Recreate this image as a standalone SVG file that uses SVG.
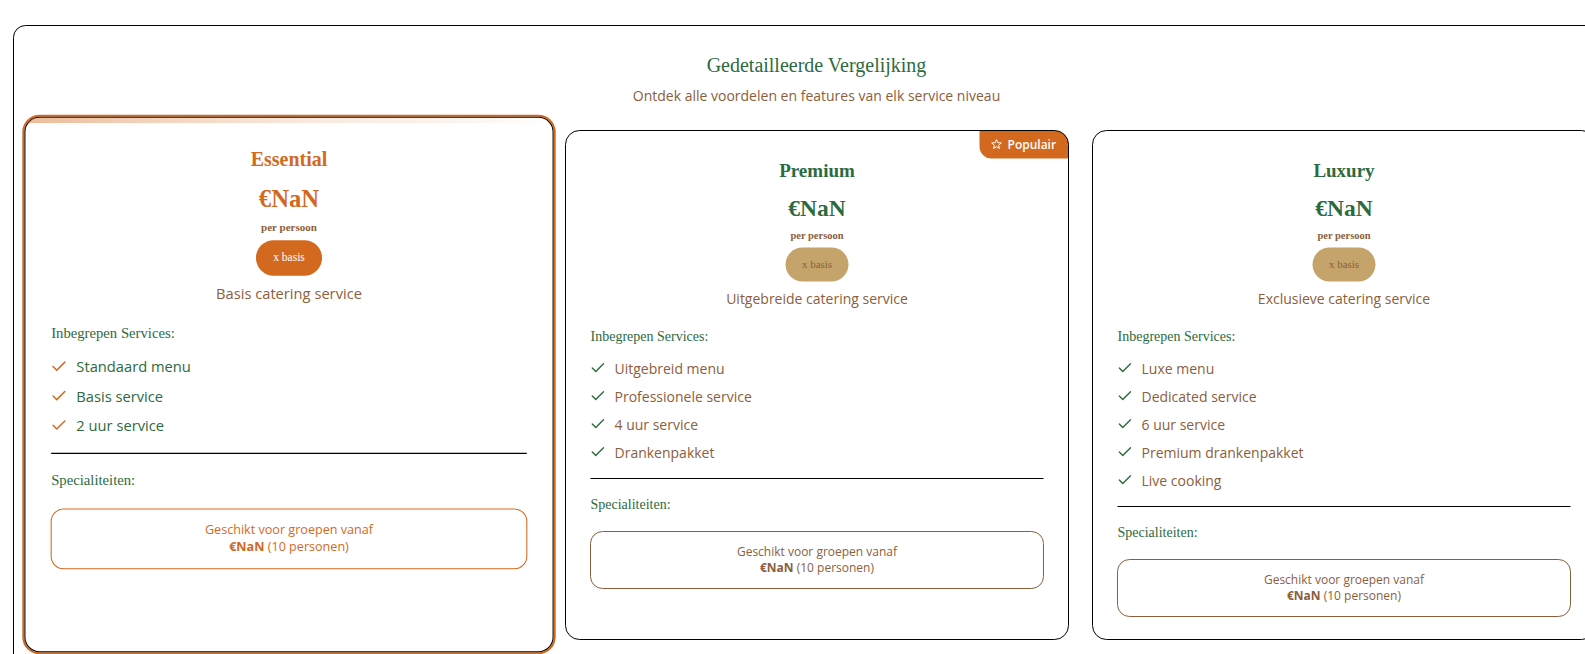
<svg xmlns="http://www.w3.org/2000/svg" width="1585" height="654" viewBox="0 0 1585 654">
<style>
.serif{font-family:"Liberation Serif","DejaVu Serif",serif}
.sans{font-family:"Open Sans","Noto Sans",sans-serif}
.green{fill:#2D6A3E}
.brown{fill:#8B5E3C}
.orange{fill:#D2691E}
.title{font-size:19px;font-weight:bold;text-anchor:middle}
.price{font-size:23.5px;font-weight:bold;text-anchor:middle}
.per{font-size:10.5px;font-weight:bold;text-anchor:middle}
.pilltxt{font-size:11px;text-anchor:middle}
.desc{font-size:14px;text-anchor:middle}
.head{font-size:14px}
.item{font-size:14px}
.boxtxt{font-size:12px;text-anchor:middle}
.card{fill:#fff;stroke:#000;stroke-width:1}
.div{stroke:#000;stroke-width:1.2}
.chk{fill:none;stroke-width:2;stroke-linecap:round;stroke-linejoin:round}
</style>
<defs>
<path id="check" d="M20 6 9 17l-5-5"/>
<linearGradient id="topglow" x1="0" y1="0" x2="1" y2="0">
<stop offset="0" stop-color="#D2691E" stop-opacity="0.45"/>
<stop offset="0.6" stop-color="#E8A070" stop-opacity="0.2"/>
<stop offset="1" stop-color="#D2691E" stop-opacity="0"/>
</linearGradient>
<clipPath id="cardclip"><rect x="0" y="0" width="503" height="509" rx="14"/></clipPath>
</defs>
<rect width="1585" height="654" fill="#fff"/>
<g id="container">
<rect x="13.5" y="25.5" width="1620" height="700" rx="12" fill="#fff" stroke="#000" stroke-width="1"/>
<text x="816.5" y="72" class="serif green" font-size="20" text-anchor="middle">Gedetailleerde Vergelijking</text>
<text x="816.5" y="101" class="sans brown" font-size="14" text-anchor="middle">Ontdek alle voordelen en features van elk service niveau</text>
</g>
<g id="connectors"></g>

<g id="essential" transform="translate(289 384.5) scale(1.05) translate(-251.5 -254.5)">
<rect x="-1.5" y="-1.5" width="506" height="512" rx="15.5" fill="none" stroke="#D2691E" stroke-width="2"/>
<rect x="0" y="0" width="503" height="509" rx="14" class="card" stroke="#222"/>
<rect x="0" y="0.5" width="503" height="5" fill="url(#topglow)" clip-path="url(#cardclip)"/>
<text x="251.5" y="46" class="serif title orange">Essential</text>
<text x="251.5" y="85" class="serif price orange">€NaN</text>
<text x="251.5" y="108" class="serif per brown">per persoon</text>
<rect x="220" y="117" width="63" height="34" rx="17" fill="#D2691E"/>
<text x="251.5" y="137" class="serif pilltxt" fill="#fff">x basis</text>
<text x="251.5" y="173" class="sans desc brown">Basis catering service</text>
<text x="25" y="210" class="serif head green">Inbegrepen Services:</text>
<use href="#check" class="chk" stroke="#D2691E" transform="translate(24 229) scale(0.7)"/>
<text x="49" y="243" class="sans item green">Standaard menu</text>
<use href="#check" class="chk" stroke="#D2691E" transform="translate(24 257) scale(0.7)"/>
<text x="49" y="271" class="sans item green">Basis service</text>
<use href="#check" class="chk" stroke="#D2691E" transform="translate(24 285) scale(0.7)"/>
<text x="49" y="299" class="sans item green">2 uur service</text>
<line x1="25" y1="320" x2="478" y2="320" class="div"/>
<text x="25" y="350" class="serif head green">Specialiteiten:</text>
<rect x="25" y="373" width="453" height="57" rx="12" fill="none" stroke="#D2691E" stroke-width="1"/>
<text x="251.5" y="397" class="sans boxtxt orange">Geschikt voor groepen vanaf</text>
<text x="251.5" y="413" class="sans boxtxt orange"><tspan font-weight="bold">€NaN</tspan> (10 personen)</text>
</g>

<g id="premium" transform="translate(565.5 130.5)">
<rect x="0" y="0" width="503" height="509" rx="14" fill="#fff"/>
<path d="M414 0H489A14 14 0 0 1 503 14V28H426A12 12 0 0 1 414 16Z" fill="#D2691E"/>
<rect x="0" y="0" width="503" height="509" rx="14" fill="none" stroke="#000" stroke-width="1"/>
<path d="M431 9 432.3 12.2 435.8 12.5 433.1 14.7 433.9 18 431 16.2 428.1 18 428.9 14.7 426.2 12.5 429.7 12.2Z" fill="none" stroke="#fff" stroke-width="1" stroke-linejoin="round"/>
<text x="442" y="18.5" class="sans" font-size="12" font-weight="600" fill="#fff">Populair</text>
<text x="251.5" y="46" class="serif title green">Premium</text>
<text x="251.5" y="85" class="serif price green">€NaN</text>
<text x="251.5" y="108" class="serif per brown">per persoon</text>
<rect x="220" y="117" width="63" height="34" rx="17" fill="#C4A46B"/>
<text x="251.5" y="137" class="serif pilltxt brown">x basis</text>
<text x="251.5" y="173" class="sans desc brown">Uitgebreide catering service</text>
<text x="25" y="210" class="serif head green">Inbegrepen Services:</text>
<use href="#check" class="chk" stroke="#2D6A3E" transform="translate(24 229) scale(0.7)"/>
<text x="49" y="243" class="sans item brown">Uitgebreid menu</text>
<use href="#check" class="chk" stroke="#2D6A3E" transform="translate(24 257) scale(0.7)"/>
<text x="49" y="271" class="sans item brown">Professionele service</text>
<use href="#check" class="chk" stroke="#2D6A3E" transform="translate(24 285) scale(0.7)"/>
<text x="49" y="299" class="sans item brown">4 uur service</text>
<use href="#check" class="chk" stroke="#2D6A3E" transform="translate(24 313) scale(0.7)"/>
<text x="49" y="327" class="sans item brown">Drankenpakket</text>
<line x1="25" y1="348" x2="478" y2="348" class="div"/>
<text x="25" y="378" class="serif head green">Specialiteiten:</text>
<rect x="25" y="401" width="453" height="57" rx="12" fill="none" stroke="#8B5E3C" stroke-width="1"/>
<text x="251.5" y="425" class="sans boxtxt brown">Geschikt voor groepen vanaf</text>
<text x="251.5" y="441" class="sans boxtxt brown"><tspan font-weight="bold">€NaN</tspan> (10 personen)</text>
</g>

<g id="luxury" transform="translate(1092.5 130.5)">
<rect x="0" y="0" width="503" height="509" rx="14" class="card"/>
<text x="251.5" y="46" class="serif title green">Luxury</text>
<text x="251.5" y="85" class="serif price green">€NaN</text>
<text x="251.5" y="108" class="serif per brown">per persoon</text>
<rect x="220" y="117" width="63" height="34" rx="17" fill="#C4A46B"/>
<text x="251.5" y="137" class="serif pilltxt brown">x basis</text>
<text x="251.5" y="173" class="sans desc brown">Exclusieve catering service</text>
<text x="25" y="210" class="serif head green">Inbegrepen Services:</text>
<use href="#check" class="chk" stroke="#2D6A3E" transform="translate(24 229) scale(0.7)"/>
<text x="49" y="243" class="sans item brown">Luxe menu</text>
<use href="#check" class="chk" stroke="#2D6A3E" transform="translate(24 257) scale(0.7)"/>
<text x="49" y="271" class="sans item brown">Dedicated service</text>
<use href="#check" class="chk" stroke="#2D6A3E" transform="translate(24 285) scale(0.7)"/>
<text x="49" y="299" class="sans item brown">6 uur service</text>
<use href="#check" class="chk" stroke="#2D6A3E" transform="translate(24 313) scale(0.7)"/>
<text x="49" y="327" class="sans item brown">Premium drankenpakket</text>
<use href="#check" class="chk" stroke="#2D6A3E" transform="translate(24 341) scale(0.7)"/>
<text x="49" y="355" class="sans item brown">Live cooking</text>
<line x1="25" y1="376" x2="478" y2="376" class="div"/>
<text x="25" y="406" class="serif head green">Specialiteiten:</text>
<rect x="25" y="429" width="453" height="57" rx="12" fill="none" stroke="#8B5E3C" stroke-width="1"/>
<text x="251.5" y="453" class="sans boxtxt brown">Geschikt voor groepen vanaf</text>
<text x="251.5" y="469" class="sans boxtxt brown"><tspan font-weight="bold">€NaN</tspan> (10 personen)</text>
</g>
</svg>
